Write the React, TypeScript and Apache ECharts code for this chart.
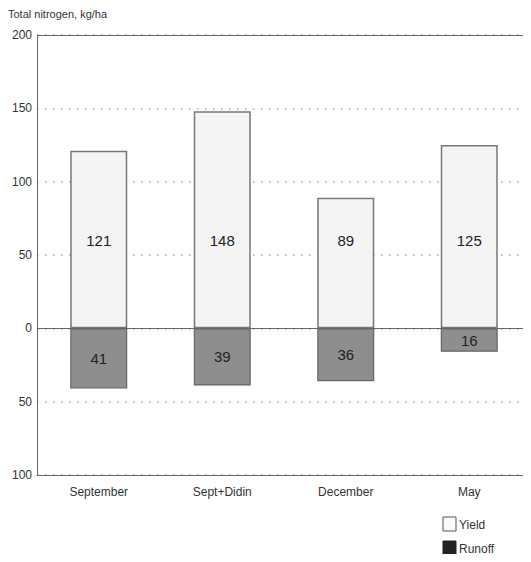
import React, { useEffect, useRef } from "react";
import * as echarts from "echarts";

const categories = ["September", "Sept+Didin", "December", "May"];
const yieldValues = [121, 148, 89, 125];
const runoffValues = [41, 39, 36, 16];
const yTicks = { min: -100, max: 200, interval: 50 };

export default function App() {
  const ref = useRef<HTMLDivElement>(null);
  useEffect(() => {
    if (!ref.current) return;
    const chart = echarts.init(ref.current, null, { renderer: "svg" });
    const font = "Liberation Sans";
    chart.setOption({
      animation: false,
      textStyle: { fontFamily: font },
      graphic: [
        {
          type: "text",
          left: 8,
          top: 8,
          style: { text: "Total nitrogen, kg/ha", fontSize: 11, fill: "#333", fontFamily: font },
        },
        {
          type: "rect",
          shape: { x: 443, y: 517, width: 13, height: 14 },
          style: { fill: "#fafafa", stroke: "#555", lineWidth: 1 },
        },
        {
          type: "text",
          x: 459,
          y: 525,
          style: { text: "Yield", fontSize: 12, fill: "#333", fontFamily: font, verticalAlign: "middle" },
        },
        {
          type: "rect",
          shape: { x: 443, y: 541, width: 13, height: 14 },
          style: { fill: "#222", stroke: "#222", lineWidth: 1 },
        },
        {
          type: "text",
          x: 459,
          y: 549,
          style: { text: "Runoff", fontSize: 12, fill: "#333", fontFamily: font, verticalAlign: "middle" },
        },
      ],
      legend: { show: false, data: ["Yield", "Runoff"] },
      grid: { left: 37, right: 0, top: 35, bottom: 87, containLabel: false },
      xAxis: {
        type: "category",
        data: categories,
        axisLine: { onZero: false, lineStyle: { color: "#666", width: 1 } },
        axisTick: { show: false },
        axisLabel: { fontSize: 12, color: "#333", margin: 11, fontFamily: font },
      },
      yAxis: {
        type: "value",
        min: yTicks.min,
        max: yTicks.max,
        interval: yTicks.interval,
        axisLine: { show: true, lineStyle: { color: "#666", width: 1 } },
        axisTick: { show: false },
        axisLabel: {
          fontSize: 12,
          color: "#333",
          margin: 5,
          fontFamily: font,
          formatter: (v: number) => String(Math.abs(v)),
        },
        splitLine: { show: true, lineStyle: { color: "#aaa", type: [1.5, 6.5], width: 1.5 } },
      },
      series: [
        {
          name: "Yield",
          type: "bar",
          stack: "n",
          data: yieldValues,
          barWidth: 57,
          itemStyle: { color: "#f4f4f4", borderColor: "#777", borderWidth: 1.5 },
          label: {
            show: true,
            position: "insideBottom",
            distance: 80,
            fontSize: 15,
            color: "#222",
            fontFamily: font,
          },
          markLine: {
            silent: true,
            symbol: "none",
            label: { show: false },
            lineStyle: { color: "#666", type: "solid", width: 1.2 },
            data: [{ yAxis: 0 }, { yAxis: 200 }],
          },
        },
        {
          name: "Runoff",
          type: "bar",
          stack: "n",
          data: runoffValues.map((v) => -v),
          barWidth: 57,
          itemStyle: { color: "#8e8e8e", borderColor: "#666", borderWidth: 1.2 },
          label: {
            show: true,
            position: "inside",
            fontSize: 15,
            color: "#222",
            fontFamily: font,
            formatter: (p: any) => String(Math.abs(p.value)),
          },
        },
      ],
    });
    return () => chart.dispose();
  }, []);
  return <div ref={ref} style={{ width: 531, height: 562, margin: -8 }} />;
}
